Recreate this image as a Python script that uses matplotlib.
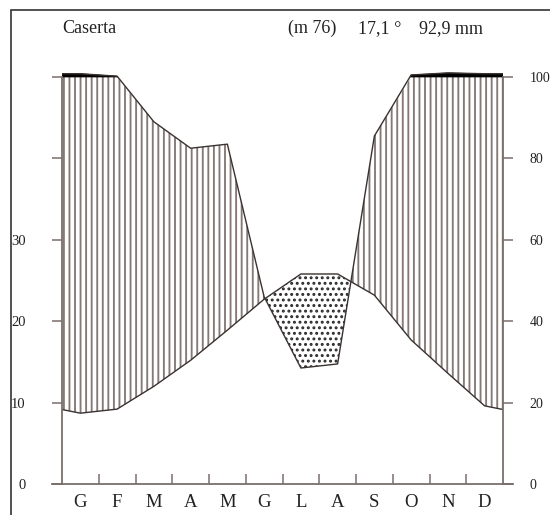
import numpy as np
import matplotlib
matplotlib.use('Agg')
import matplotlib.pyplot as plt
from matplotlib.patches import Rectangle

# ---- data ----
months = ['G', 'F', 'M', 'A', 'M', 'G', 'L', 'A', 'S', 'O', 'N', 'D']
temp = [8.7, 9.2, 12.0, 15.2, 18.9, 22.7, 25.8, 25.8, 23.2, 17.7, 13.6, 9.6]
prec = [108, 102, 89, 82.5, 83.5, 46, 28.5, 29.5, 85.5, 105, 110, 108]
station = 'Caserta'
altitude = '(m 76)'
mean_temp = '17,1 °'
annual_prec = '92,9 mm'
temp_ticks = [0, 10, 20, 30, 40, 50]
temp_labels = ['0', '10', '20', '30', '', '']
prec_ticks = [0, 20, 40, 60, 80, 100]
prec_labels = ['0', '20', '40', '60', '80', '100']

plt.rcParams['font.family'] = ['Liberation Serif', 'DejaVu Serif']
plt.rcParams['hatch.linewidth'] = 1.35

W, H = 550, 515
fig = plt.figure(figsize=(W / 100, H / 100), dpi=100)

# axes placement (pixels)
x0, x1 = 62, 503
y_zero, y_top50 = 484, 77
scale = (y_zero - y_top50) / 50.0
ymax = 52.0
y_axtop = y_zero - ymax * scale
ax = fig.add_axes([x0 / W, (H - y_zero) / H, (x1 - x0) / W, (y_zero - y_axtop) / H])

axcol = '#7a6e6b'
linecol = '#3a3230'
hatchcol = '#857976'

# wrap-around month series
n = len(months)
xm = np.arange(1, n + 1)
x = np.arange(0, n + 2)
t = np.array([temp[-1]] + temp + [temp[0]], dtype=float)
p = np.array([prec[-1]] + prec + [prec[0]], dtype=float)
ps = np.where(p > 100, 100 + (p - 100) / 10.0, p) / 2.0

# humid (vertical hatch)
ax.fill_between(x, t, np.minimum(ps, 50), where=ps >= t, interpolate=True,
                facecolor='none', edgecolor=hatchcol, hatch='|||', linewidth=0)
# arid (dots)
ax.fill_between(x, ps, t, where=ps < t, interpolate=True,
                facecolor='none', edgecolor='#2a2a2a', hatch='...', linewidth=0)
# above 100 mm (black)
ax.fill_between(x, 50, ps, where=ps > 50, interpolate=True,
                facecolor='black', edgecolor='black', linewidth=0.5)

ax.plot(x, t, color=linecol, lw=1.0)
ax.plot(x, ps, color=linecol, lw=1.0)

ax.set_xlim(0.5, n + 0.5)
ax.set_ylim(0, ymax)

ax.spines['top'].set_visible(False)
for s in ['left', 'right', 'bottom']:
    ax.spines[s].set_color(axcol)
    ax.spines[s].set_linewidth(1.3)
ax.spines['left'].set_bounds(0, 50)
ax.spines['right'].set_bounds(0, 50)
ext = 10 / ((x1 - x0) / n)
ax.spines['bottom'].set_bounds(0.5 - ext, n + 0.5 + ext)

# month labels and boundary ticks
ax.set_xticks(xm)
ax.set_xticklabels(months, fontsize=13.5)
ax.tick_params(axis='x', which='major', length=0, pad=7, labelcolor='#222222')
ax.set_xticks(np.arange(1.5, n, 1.0), minor=True)
ax.tick_params(axis='x', which='minor', direction='in', length=7.2,
               width=1.1, color=axcol)

ax.set_yticks(temp_ticks)
ax.set_yticklabels(temp_labels, fontsize=10.5)
ax.tick_params(axis='y', direction='out', length=7.2, width=1.1, color=axcol,
               pad=19, labelcolor='#222222')

ax2 = ax.twinx()
ax2.set_ylim(0, 2 * ymax)
for s in ['top', 'left', 'bottom', 'right']:
    ax2.spines[s].set_visible(False)
ax2.set_yticks(prec_ticks)
ax2.set_yticklabels(prec_labels, fontsize=10)
ax2.tick_params(axis='y', direction='out', length=7.2, width=1.1, color=axcol,
                pad=12, labelcolor='#222222')

# header
fy = 1 - 33 / H
fig.text(62 / W, fy, station, fontsize=13, va='baseline', ha='left', color='#222222')
fig.text(288 / W, fy, altitude, fontsize=13, va='baseline', ha='left', color='#222222')
fig.text(358 / W, fy, mean_temp, fontsize=13, va='baseline', ha='left', color='#222222')
fig.text(419 / W, fy, annual_prec, fontsize=13, va='baseline', ha='left', color='#222222')

# outer frame (cropped at right and bottom)
fig.add_artist(Rectangle((11 / W, -0.1), 2, 1 - 10 / H + 0.1, transform=fig.transFigure,
                         fill=False, lw=1.2, ec='#333333'))

fig.savefig('out.png', dpi=100)
